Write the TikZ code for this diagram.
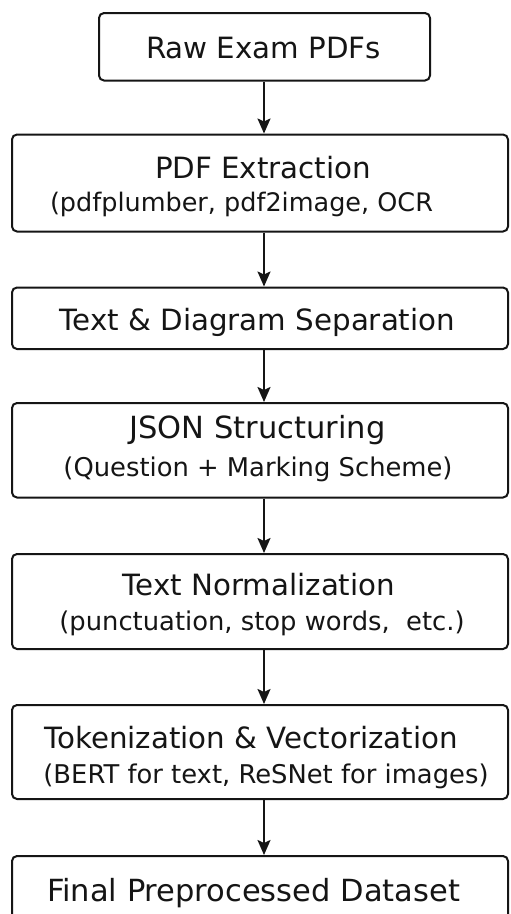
\documentclass[tikz,border=0pt]{standalone}
\usepackage{fontspec}
\setmainfont{DejaVu Sans}
\usetikzlibrary{arrows.meta}
\definecolor{ink}{HTML}{151515}
\begin{document}
\begin{tikzpicture}[x=1pt,y=-1pt,
  box/.style={draw=ink, line width=2pt, rounded corners=5pt, inner sep=0pt, fill=white},
  ttl/.style={anchor=base, inner sep=0pt, text=ink, font=\fontsize{29.3}{34}\selectfont},
  sub/.style={anchor=base, inner sep=0pt, text=ink, font=\fontsize{25.8}{30}\selectfont},
  arr/.style={draw=ink, line width=2pt, -{Stealth[length=15pt,width=13pt,inset=3pt]}}]
\clip (0,0) rectangle (511,914);
\fill[white] (0,0) rectangle (511,914);
\coordinate (ax) at (264,0);
% boxes
\node[box, minimum width=331pt, minimum height=67.5pt] (b1) at (264.5,46.75) {};
\node[box, minimum width=496pt, minimum height=97pt]   (b2) at (260,183) {};
\node[box, minimum width=496pt, minimum height=61.5pt] (b3) at (260,318.25) {};
\node[box, minimum width=496pt, minimum height=94.5pt] (b4) at (260,450.25) {};
\node[box, minimum width=496pt, minimum height=95pt]   (b5) at (260,601.5) {};
\node[box, minimum width=496pt, minimum height=94pt]   (b6) at (260,752) {};
\node[box, minimum width=496pt, minimum height=74pt]   (b7) at (260,893) {};
% texts
\node[ttl] (t1) at (263.5,58) {Raw Exam PDFs};
\node[ttl] (t2) at (263,178.5) {PDF Extraction};
\node[sub, font=\fontsize{25.5}{30}\selectfont] (s2) at (241.5,211.5) {(pdfplumber, pdf2image, OCR};
\node[ttl] (t3) at (257.5,330) {Text \& Diagram Separation};
\node[ttl, font=\fontsize{30.5}{35}\selectfont] (t4) at (257.5,438) {JSON Structuring};
\node[sub] (s4) at (258,476) {(Question + Marking Scheme)};
\node[ttl] (t5) at (259,595) {Text Normalization};
\node[sub] (s5) at (262,630) {(punctuation, stop words, \ etc.)};
\node[ttl] (t6) at (251,748.5) {Tokenization \& Vectorization};
\node[sub] (s6) at (266,783) {(BERT for text, ReSNet for images)};
\node[ttl, font=\fontsize{30.5}{35}\selectfont] (t7) at (253.5,901) {Final Preprocessed Dataset};
% arrows
\draw[arr] (b1.south -| ax) -- (b2.north -| ax);
\draw[arr] (b2.south -| ax) -- (b3.north -| ax);
\draw[arr] (b3.south -| ax) -- (b4.north -| ax);
\draw[arr] (b4.south -| ax) -- (b5.north -| ax);
\draw[arr] (b5.south -| ax) -- (b6.north -| ax);
\draw[arr] (b6.south -| ax) -- (b7.north -| ax);
\end{tikzpicture}
\end{document}
